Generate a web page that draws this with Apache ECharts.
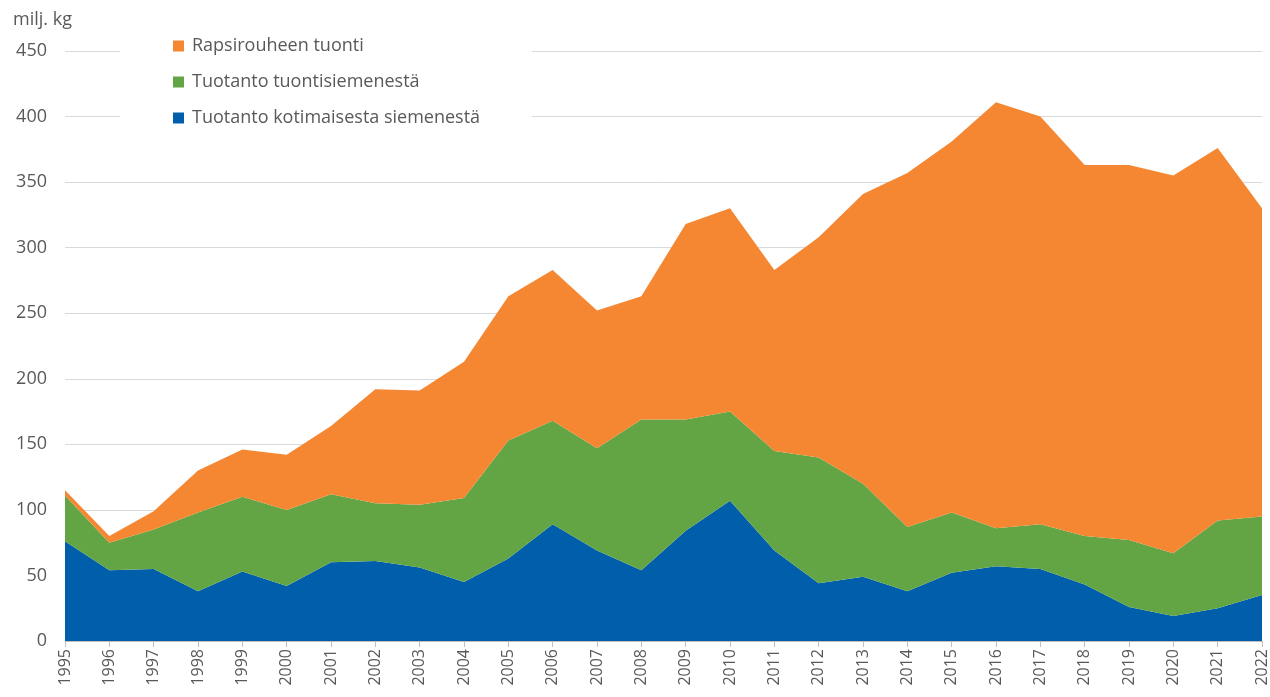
<!DOCTYPE html>
<html>
<head>
<meta charset="utf-8">
<script src="https://cdn.jsdelivr.net/npm/echarts@6/dist/echarts.min.js"></script>
<style>
  html, body { margin: 0; padding: 0; background: #fff; }
  #chart { width: 1270px; height: 697px; }
</style>
</head>
<body>
<div id="chart"></div>
<script>
// vuodet
const years = ['1995','1996','1997','1998','1999','2000','2001','2002','2003','2004','2005','2006','2007','2008',
  '2009','2010','2011','2012','2013','2014','2015','2016','2017','2018','2019','2020','2021','2022'];

// milj. kg
const kotimainen = [76, 54, 55, 38, 53, 42, 60, 61, 56, 45, 63, 89, 69, 54, 84, 107, 69, 44, 49, 38, 52, 57, 55, 43, 26, 19, 25, 35];
const tuontisiemen = [35, 21, 30, 60, 57, 58, 52, 44, 48, 64, 90, 79, 78, 115, 85, 68, 76, 96, 71, 49, 46, 29, 34, 37, 51, 48, 67, 60];
const rouheTuonti = [4, 5, 14, 32, 36, 42, 52, 87, 87, 104, 110, 115, 105, 94, 149, 155, 138, 168, 221, 270, 283, 325, 311, 283, 286, 288, 284, 235];

const yTicks = { min: 0, max: 450, interval: 50 };

const textColor = '#595959';
const fontFamily = '"Open Sans", "Noto Sans", sans-serif';

const chart = echarts.init(document.getElementById('chart'));

const areaSeries = (name, data, color) => ({
  name: name,
  type: 'line',
  stack: 'total',
  data: data,
  symbol: 'none',
  showSymbol: false,
  lineStyle: { width: 0 },
  itemStyle: { color: color },
  areaStyle: { color: color, opacity: 1 },
  emphasis: { disabled: true }
});

chart.setOption({
  animation: false,
  textStyle: { fontFamily: fontFamily },
  title: {
    text: 'milj. kg',
    left: 8,
    top: 6,
    textStyle: { color: textColor, fontSize: 18, fontWeight: 'normal', fontFamily: fontFamily }
  },
  grid: { left: 65, right: 8, top: 51, bottom: 56, containLabel: false },
  legend: {
    orient: 'vertical',
    left: 120,
    top: 28,
    padding: [8, 52, 8, 53],
    backgroundColor: '#fff',
    itemWidth: 11,
    itemHeight: 11,
    itemGap: 16,
    icon: 'rect',
    selectedMode: false,
    data: ['Rapsirouheen tuonti', 'Tuotanto tuontisiemenestä', 'Tuotanto kotimaisesta siemenestä'],
    textStyle: { color: textColor, fontSize: 18, lineHeight: 20, fontFamily: fontFamily, padding: [0, 0, 0, 3] }
  },
  xAxis: {
    type: 'category',
    data: years,
    boundaryGap: false,
    axisLine: { lineStyle: { color: '#bfbfbf', width: 1 } },
    axisTick: { show: true, length: 6, lineStyle: { color: '#bfbfbf' } },
    axisLabel: { rotate: 90, color: textColor, fontSize: 16, margin: 8, interval: 0 },
    splitLine: { show: false }
  },
  yAxis: {
    type: 'value',
    min: yTicks.min,
    max: yTicks.max,
    interval: yTicks.interval,
    axisLine: { show: false },
    axisTick: { show: false },
    axisLabel: { color: textColor, fontSize: 18, margin: 18 },
    splitLine: { lineStyle: { color: '#d9d9d9', width: 1 } }
  },
  series: [
    areaSeries('Tuotanto kotimaisesta siemenestä', kotimainen, '#005eaa'),
    areaSeries('Tuotanto tuontisiemenestä', tuontisiemen, '#63a545'),
    areaSeries('Rapsirouheen tuonti', rouheTuonti, '#f58733')
  ]
});
</script>
</body>
</html>
